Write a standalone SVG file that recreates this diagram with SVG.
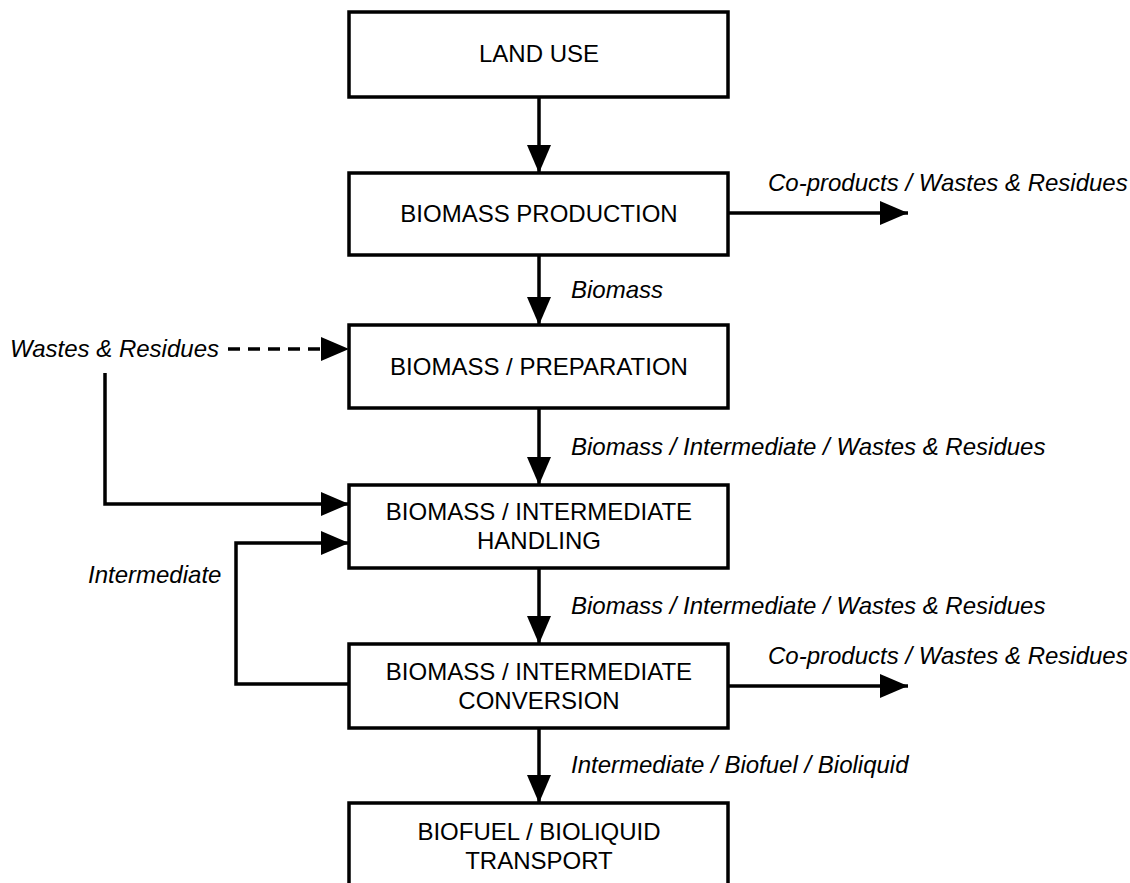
<svg xmlns="http://www.w3.org/2000/svg" width="1130" height="883" viewBox="0 0 1130 883">
<defs>
<style>
.box{fill:#fff;stroke:#000;stroke-width:3.5}
.t{font-family:"Liberation Sans",Arial,sans-serif;font-size:24px;fill:#000;text-anchor:middle}
.l{font-family:"Liberation Sans",Arial,sans-serif;font-size:24px;font-style:italic;fill:#000}
.c{fill:none;stroke:#000;stroke-width:3.5}
.d{stroke-dasharray:12,8}
</style>
<marker id="ah" markerUnits="userSpaceOnUse" markerWidth="30" markerHeight="24" refX="28" refY="12" orient="auto">
<path d="M0,0 L28,12 L0,24 Z" fill="#000"/>
</marker>
</defs>
<rect width="1130" height="883" fill="#fff"/>
<g id="connectors">
<line class="c" x1="539" y1="97" x2="539" y2="173" marker-end="url(#ah)"/>
<line class="c" x1="728" y1="213" x2="908" y2="213" marker-end="url(#ah)"/>
<line class="c" x1="539" y1="255" x2="539" y2="325" marker-end="url(#ah)"/>
<line class="c d" x1="228" y1="349" x2="349" y2="349" marker-end="url(#ah)"/>
<polyline class="c" points="105,373 105,504 349,504" marker-end="url(#ah)"/>
<line class="c" x1="539" y1="408" x2="539" y2="485" marker-end="url(#ah)"/>
<polyline class="c" points="349,684 236,684 236,543 349,543" marker-end="url(#ah)"/>
<line class="c" x1="539" y1="568" x2="539" y2="644" marker-end="url(#ah)"/>
<line class="c" x1="728" y1="686" x2="908" y2="686" marker-end="url(#ah)"/>
<line class="c" x1="539" y1="728" x2="539" y2="803" marker-end="url(#ah)"/>
<text class="l" x="768" y="191">Co-products / Wastes &amp; Residues</text>
<text class="l" x="571" y="298">Biomass</text>
<text class="l" x="10" y="357">Wastes &amp; Residues</text>
<text class="l" x="571" y="455">Biomass / Intermediate / Wastes &amp; Residues</text>
<text class="l" x="88" y="583">Intermediate</text>
<text class="l" x="571" y="614">Biomass / Intermediate / Wastes &amp; Residues</text>
<text class="l" x="768" y="664">Co-products / Wastes &amp; Residues</text>
<text class="l" x="571" y="773">Intermediate / Biofuel / Bioliquid</text>
</g>
<g id="land-use"><rect class="box" x="349" y="12" width="379" height="85"/><text class="t" x="539" y="62">LAND USE</text></g>
<g id="biomass-production"><rect class="box" x="349" y="173" width="379" height="82"/><text class="t" x="539" y="222">BIOMASS PRODUCTION</text></g>
<g id="biomass-preparation"><rect class="box" x="349" y="325" width="379" height="83"/><text class="t" x="539" y="375">BIOMASS / PREPARATION</text></g>
<g id="handling"><rect class="box" x="349" y="485" width="379" height="83"/><text class="t" x="539" y="520">BIOMASS / INTERMEDIATE</text><text class="t" x="539" y="549">HANDLING</text></g>
<g id="conversion"><rect class="box" x="349" y="644" width="379" height="84"/><text class="t" x="539" y="680">BIOMASS / INTERMEDIATE</text><text class="t" x="539" y="709">CONVERSION</text></g>
<g id="transport"><rect class="box" x="349" y="803" width="379" height="100"/><text class="t" x="539" y="840">BIOFUEL / BIOLIQUID</text><text class="t" x="539" y="869">TRANSPORT</text></g>
</svg>
